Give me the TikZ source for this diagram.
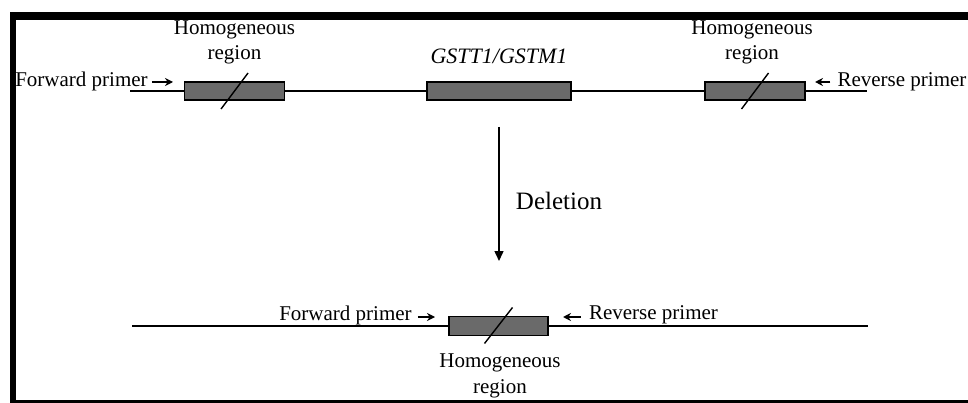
\documentclass[tikz,border=0pt]{standalone}
\usepackage{fontspec}
\setmainfont{Liberation Serif}
\usetikzlibrary{arrows.meta}

\definecolor{gray42}{RGB}{106,106,106}
\tikzset{
  lbl/.style={inner sep=0pt, font=\fontsize{21}{25.5}\selectfont, align=center},
  gene/.style={draw=black, line width=1.1pt, fill=gray42, minimum height=18pt, inner sep=0pt},
  slashmark/.style={line width=1.4pt},
  strand/.style={line width=1.1pt},
  primer/.style={line width=1.2pt, -{Stealth[length=8pt,width=8pt]}},
  event/.style={line width=1.5pt, -{Triangle[length=10pt,width=9pt]}},
  frame/.style={fill=black, draw=none}
}

\begin{document}
\begin{tikzpicture}[x=1pt,y=-1pt]
\useasboundingbox (0,0) rectangle (968,403);

% outer frame (open on the right)
\fill[frame] (10,12) rectangle (968,20);
\fill[frame] (10,12) rectangle (16,403);
\fill[frame] (10,400) rectangle (968,403);

% ---- chromosome before deletion ----
\node[gene, minimum width=100pt] (h1) at (234.5,91) {};
\node[gene, minimum width=144pt] (g)  at (499,91) {};
\node[gene, minimum width=100pt] (h2) at (755,91) {};
\coordinate (l1) at (130,91);
\coordinate (r1) at (867,91);
\draw[strand] (l1) -- (h1.west);
\draw[strand] (h1.east) -- (g.west);
\draw[strand] (g.east) -- (h2.west);
\draw[strand] (h2.east) -- (r1);
\draw[slashmark] ([shift={(-13.5,18)}]h1.center) -- ([shift={(13.5,-18)}]h1.center);
\draw[slashmark] ([shift={(-13.5,18)}]h2.center) -- ([shift={(13.5,-18)}]h2.center);

\node[lbl] (th1) at (234.5,42.6) {Homogeneous\\region};
\node[lbl] (th2) at (752,42.6) {Homogeneous\\region};
\node[lbl, anchor=base, font=\fontsize{22}{26}\selectfont\itshape] (tg) at (499,64) {GSTT1/GSTM1};

\node[lbl, anchor=base] (fp1) at (81.5,87) {Forward primer};
\node[lbl, anchor=base] (rp1) at (902,87) {Reverse primer};
\coordinate (fa1) at (173,82);
\coordinate (ra1) at (815,82);
\draw[primer] ([xshift=4pt]fp1.east |- fa1) -- (fa1);
\draw[primer] ([xshift=-7pt]rp1.west |- ra1) -- (ra1);

% ---- deletion step ----
\coordinate (d0) at (499,127);
\coordinate (d1) at (499,261);
\draw[event] (d0) -- (d1);
\node[lbl, anchor=base, font=\fontsize{25}{30}\selectfont] (del) at (559,210) {Deletion};

% ---- chromosome after deletion ----
\node[gene, minimum width=99pt, minimum height=19pt] (h3) at (498.5,326) {};
\coordinate (l2) at (132,326);
\coordinate (r2) at (868,326);
\draw[strand] (l2) -- (h3.west);
\draw[strand] (h3.east) -- (r2);
\draw[slashmark] ([shift={(-14,17.5)}]h3.center) -- ([shift={(14,-18.5)}]h3.center);

\node[lbl] (th3) at (500,375.9) {Homogeneous\\region};
\node[lbl, anchor=base] (fp2) at (345.5,320) {Forward primer};
\node[lbl, anchor=base] (rp2) at (653.5,319) {Reverse primer};
\coordinate (fa2) at (435,317);
\coordinate (ra2) at (563,317);
\draw[primer] ([xshift=6pt]fp2.east |- fa2) -- (fa2);
\draw[primer] ([xshift=-8pt]rp2.west |- ra2) -- (ra2);
\end{tikzpicture}
\end{document}
